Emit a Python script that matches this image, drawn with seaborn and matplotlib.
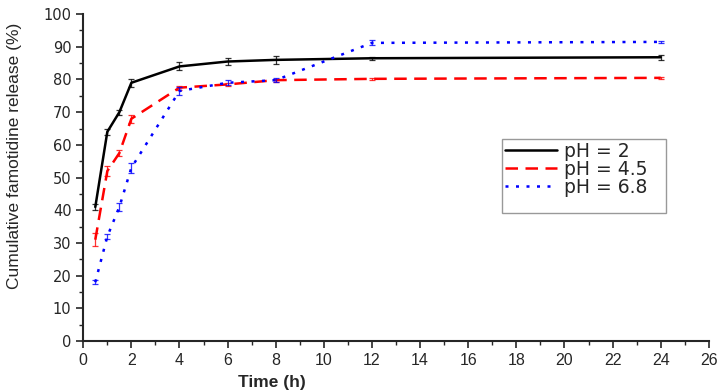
import numpy as np
import pandas as pd
import matplotlib
matplotlib.use("Agg")
import matplotlib.pyplot as plt
import seaborn as sns
from matplotlib.ticker import MultipleLocator
from matplotlib.patches import Rectangle

# === Data ===
time_h = [0.5, 1, 1.5, 2, 4, 6, 8, 12, 24]
ph2 = [41, 64, 70, 79, 84, 85.5, 86, 86.5, 86.8]
ph2_err = [1.0, 1.0, 0.8, 1.2, 1.2, 1.2, 1.2, 0.5, 0.8]
ph45 = [31, 52, 57.5, 68, 77.5, 78.5, 79.8, 80.2, 80.5]
ph45_err = [2.0, 1.5, 0.8, 1.2, 0.6, 0.5, 0.5, 0.3, 0.3]
ph68 = [18, 32, 41, 53, 76.5, 79, 79.8, 91.2, 91.5]
ph68_err = [0.6, 0.8, 1.2, 1.5, 1.2, 0.8, 0.6, 0.8, 0.3]
labels = ["pH = 2", "pH = 4.5", "pH = 6.8"]

sns.set_style("ticks")
plt.rcParams['font.family'] = ['Liberation Sans', 'DejaVu Sans']

fig = plt.figure(figsize=(7.24, 3.92), dpi=100)
ax = fig.add_axes([0.115, 0.130, 0.864, 0.834])

series = [
    (ph2, ph2_err, "black", "-"),
    (ph45, ph45_err, "red", (0, (5, 3))),
    (ph68, ph68_err, "blue", (0, (1.2, 3))),
]
for (vals, err, col, ls), lab in zip(series, labels):
    df = pd.DataFrame({"t": time_h, "r": vals})
    sns.lineplot(data=df, x="t", y="r", color=col, linestyle=ls, lw=1.8,
                 label=lab, ax=ax)
    ax.errorbar(time_h, vals, yerr=err, fmt="none", ecolor=col, elinewidth=0.9,
                capsize=2.5, capthick=0.9, alpha=0.8)

ax.set_xlim(0, 26)
ax.set_ylim(0, 100)
ax.xaxis.set_major_locator(MultipleLocator(2))
ax.xaxis.set_minor_locator(MultipleLocator(1))
ax.yaxis.set_major_locator(MultipleLocator(10))
ax.yaxis.set_minor_locator(MultipleLocator(5))
ax.tick_params(which="major", length=5, width=1.2, direction="out")
ax.tick_params(which="minor", length=3, width=1.0, direction="out")
ax.tick_params(axis="x", labelsize=11.5)
for t in ax.get_yticklabels():
    t.set_fontfamily("DejaVu Sans")
    t.set_fontsize(10.5)
sns.despine(ax=ax)
for s in ["left", "bottom"]:
    ax.spines[s].set_linewidth(1.5)

ax.set_xlabel("Time (h)", fontsize=12.5, fontweight="bold")
ax.xaxis.set_label_coords(0.302, -0.105)
ax.set_ylabel("Cumulative famotidine release (%)", fontsize=12.5)
ax.yaxis.set_label_coords(-0.098, 0.566)

# legend frame drawn separately (taller than the entries)
ax.add_patch(Rectangle((0.669, 0.391), 0.262, 0.227, transform=ax.transAxes,
                       fill=False, edgecolor="#999999", lw=1.0, zorder=5))
leg = ax.legend(loc="upper left", bbox_to_anchor=(0.669, 0.618), frameon=False,
                prop={"family": "DejaVu Sans", "size": 13.5},
                handlelength=2.8, borderpad=0.15, labelspacing=-0.05,
                handletextpad=0.35, borderaxespad=0)

fig.savefig("out.png", dpi=100)
